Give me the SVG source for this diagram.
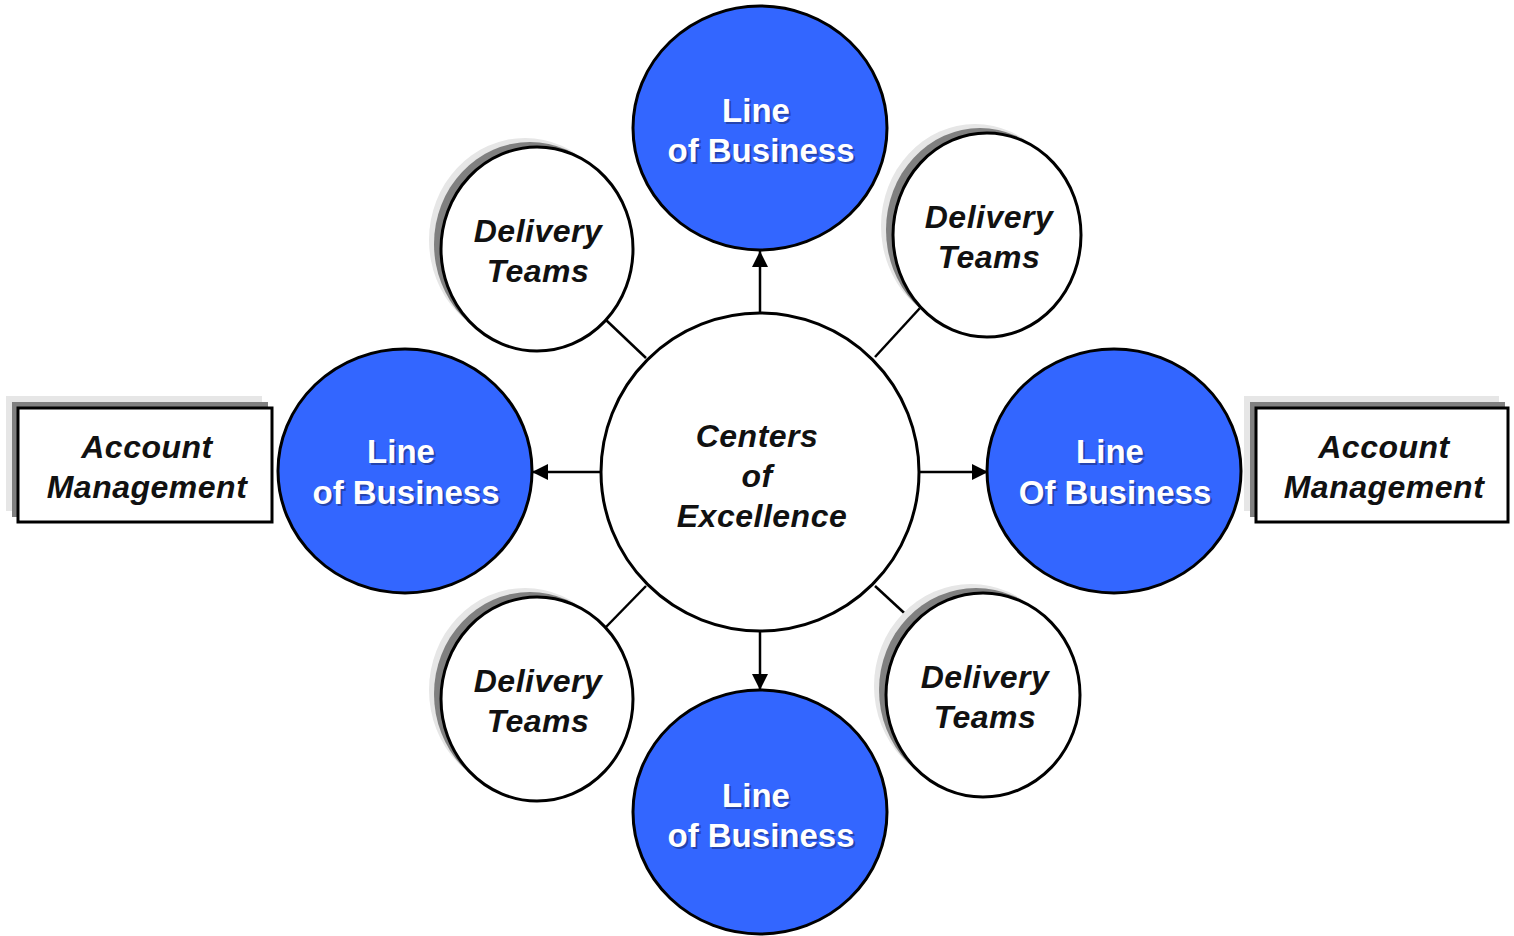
<svg xmlns="http://www.w3.org/2000/svg" width="1514" height="936" viewBox="0 0 1514 936">
<defs>
<style>
.lob{fill:#3366ff;stroke:#000;stroke-width:3}
.dt{fill:#fff;stroke:#000;stroke-width:3}
.sh1{fill:#e6e6e6}
.sh2{fill:#808080}
.box{fill:#fff;stroke:#000;stroke-width:3}
.conn{stroke:#000;stroke-width:2.5;fill:none}
.wt{font-family:"Liberation Sans",Arial,sans-serif;font-weight:bold;font-size:33px;fill:#fff;text-anchor:middle}
.wts{font-family:"Liberation Sans",Arial,sans-serif;font-weight:bold;font-size:33px;fill:#1c2f7a;opacity:0.6;text-anchor:middle}
.bt{font-family:"Liberation Sans",Arial,sans-serif;font-weight:bold;font-style:italic;font-size:32px;letter-spacing:0.5px;fill:#111;text-anchor:middle}
</style>
<marker id="arr" markerUnits="userSpaceOnUse" markerWidth="18" markerHeight="18" refX="16" refY="8" orient="auto">
<path d="M0,0 L16,8 L0,16 z" fill="#000"/>
</marker>
</defs>
<rect width="1514" height="936" fill="#fff"/>

<g id="connectors">
<line class="conn" x1="760" y1="314" x2="760" y2="251" marker-end="url(#arr)"/>
<line class="conn" x1="760" y1="630" x2="760" y2="690" marker-end="url(#arr)"/>
<line class="conn" x1="601" y1="472" x2="532" y2="472" marker-end="url(#arr)"/>
<line class="conn" x1="919" y1="472" x2="988" y2="472" marker-end="url(#arr)"/>
<line class="conn" x1="646" y1="358" x2="606" y2="320"/>
<line class="conn" x1="875" y1="357" x2="920" y2="308"/>
<line class="conn" x1="646" y1="586" x2="606" y2="627"/>
<line class="conn" x1="875" y1="586" x2="914" y2="622"/>
</g>

<g id="center">
<circle cx="760" cy="472" r="159" fill="#fff" stroke="#000" stroke-width="3"/>
<text class="bt" x="757" y="447">Centers</text>
<text class="bt" x="757" y="487">of</text>
<text class="bt" x="762" y="527">Excellence</text>
</g>

<g id="lob-top">
<ellipse class="lob" cx="760" cy="128" rx="127" ry="122"/>
<text class="wts" x="758" y="124">Line</text>
<text class="wts" x="763" y="164">of Business</text>
<text class="wt" x="756" y="122">Line</text>
<text class="wt" x="761" y="162">of Business</text>
</g>

<g id="lob-bottom">
<ellipse class="lob" cx="760" cy="812" rx="127" ry="122"/>
<text class="wts" x="758" y="809">Line</text>
<text class="wts" x="763" y="849">of Business</text>
<text class="wt" x="756" y="807">Line</text>
<text class="wt" x="761" y="847">of Business</text>
</g>

<g id="lob-left">
<ellipse class="lob" cx="405" cy="471" rx="127" ry="122"/>
<text class="wts" x="403" y="465">Line</text>
<text class="wts" x="408" y="506">of Business</text>
<text class="wt" x="401" y="463">Line</text>
<text class="wt" x="406" y="504">of Business</text>
</g>

<g id="lob-right">
<ellipse class="lob" cx="1114" cy="471" rx="127" ry="122"/>
<text class="wts" x="1112" y="465">Line</text>
<text class="wts" x="1117" y="506">Of Business</text>
<text class="wt" x="1110" y="463">Line</text>
<text class="wt" x="1115" y="504">Of Business</text>
</g>

<g id="dt-top-left">
<ellipse class="sh1" cx="525" cy="240" rx="96" ry="102"/>
<ellipse class="sh2" cx="530" cy="244" rx="96" ry="102"/>
<ellipse class="dt" cx="537" cy="249" rx="96" ry="102"/>
<text class="bt" x="538" y="242">Delivery</text>
<text class="bt" x="538" y="282">Teams</text>
</g>

<g id="dt-top-right">
<ellipse class="sh1" cx="975" cy="226" rx="94" ry="102"/>
<ellipse class="sh2" cx="980" cy="230" rx="94" ry="102"/>
<ellipse class="dt" cx="987" cy="235" rx="94" ry="102"/>
<text class="bt" x="989" y="228">Delivery</text>
<text class="bt" x="989" y="268">Teams</text>
</g>

<g id="dt-bottom-left">
<ellipse class="sh1" cx="525" cy="690" rx="96" ry="102"/>
<ellipse class="sh2" cx="530" cy="694" rx="96" ry="102"/>
<ellipse class="dt" cx="537" cy="699" rx="96" ry="102"/>
<text class="bt" x="538" y="692">Delivery</text>
<text class="bt" x="538" y="732">Teams</text>
</g>

<g id="dt-bottom-right">
<ellipse class="sh1" cx="971" cy="686" rx="97" ry="102"/>
<ellipse class="sh2" cx="976" cy="690" rx="97" ry="102"/>
<ellipse class="dt" cx="983" cy="695" rx="97" ry="102"/>
<text class="bt" x="985" y="688">Delivery</text>
<text class="bt" x="985" y="728">Teams</text>
</g>

<g id="am-left">
<rect class="sh1" x="6" y="396" width="256" height="115"/>
<rect class="sh2" x="12" y="402" width="256" height="115"/>
<rect class="box" x="18" y="408" width="254" height="114"/>
<text class="bt" x="147" y="458">Account</text>
<text class="bt" x="147" y="498">Management</text>
</g>

<g id="am-right">
<rect class="sh1" x="1244" y="396" width="255" height="115"/>
<rect class="sh2" x="1250" y="402" width="255" height="115"/>
<rect class="box" x="1256" y="408" width="252" height="114"/>
<text class="bt" x="1384" y="458">Account</text>
<text class="bt" x="1384" y="498">Management</text>
</g>
</svg>
